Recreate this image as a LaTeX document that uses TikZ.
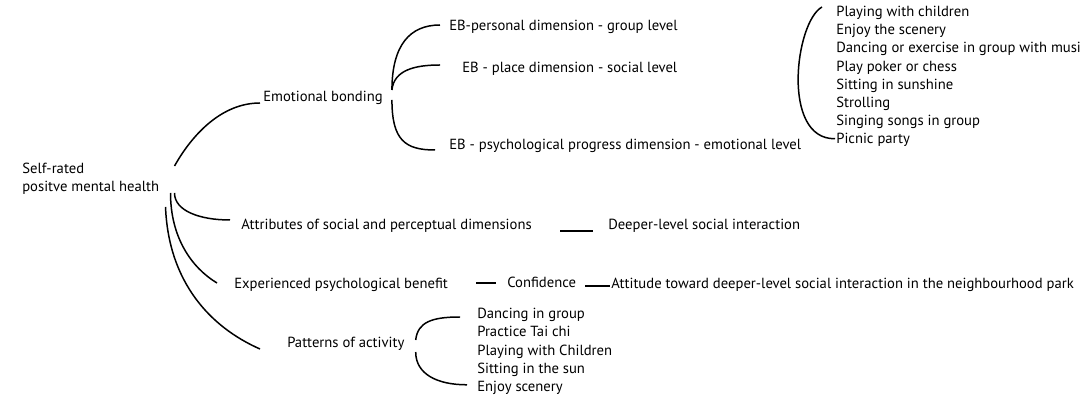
\documentclass[tikz,border=0pt]{standalone}
\usepackage{fontspec}
\setmainfont{PT Sans}
\usepackage{tikz}

\tikzset{
  lbl/.style={anchor=west, inner sep=0pt, text height=7pt, text depth=2pt,
    font=\fontsize{9.8}{12.04}\selectfont},
  link/.style={line width=1pt}
}

\begin{document}
\begin{tikzpicture}[x=0.0235cm, y=-0.0235cm]
    \useasboundingbox (0,0) rectangle (1080,401);
    % main branches
    \node[lbl, align=left] (root) at (22,188) {Self-rated\\positve mental health};
    \node[lbl] (eb) at (263,98) {Emotional bonding};
    \node[lbl] (attr) at (241,226) {Attributes of social and perceptual dimensions};
    \node[lbl] (exp) at (234,285) {Experienced psychological benefit};
    \node[lbl] (pat) at (287,344) {Patterns of activity};
    \draw[link] ([shift={(15,-22)}]root.east) .. controls +(18,-32) and +(-38,0) .. ([shift={(-3,5)}]eb.west);
    \draw[link] ([shift={(15,5)}]root.east) .. controls +(0,18) and +(-30,0) .. ([shift={(-11,-6)}]attr.west);
    \draw[link] ([shift={(11,5)}]root.east) .. controls +(0,45) and +(-25,-15) .. ([shift={(-17,-2)}]exp.west);
    \draw[link] ([shift={(6,19)}]root.east) .. controls +(3,75) and +(-50,-22) .. ([shift={(-27,5)}]pat.west);
    % emotional bonding
    \node[lbl] (eb1) at (449,27) {EB-personal dimension - group level};
    \node[lbl] (eb2) at (462,69) {EB - place dimension - social level};
    \node[lbl] (eb3) at (449,146) {EB - psychological progress dimension - emotional level};
    \draw[link] ([shift={(9,-8)}]eb.east) .. controls +(0,-45) and +(-30,0) .. ([shift={(-9,-2)}]eb1.west);
    \draw[link] ([shift={(9,-8)}]eb.east) .. controls +(2,-20) and +(-25,0) .. ([shift={(-22,-4)}]eb2.west);
    \draw[link] ([shift={(9,2)}]eb.east) .. controls +(0,40) and +(-30,0) .. ([shift={(-14,4)}]eb3.west);
    \foreach \t [count=\i] in {Playing with children, Enjoy the scenery,
        Dancing or exercise in group with music, Play poker or chess,
        Sitting in sunshine, Strolling, Singing songs in group, Picnic party} {
      \node[lbl] (act\i) at (836,{13+18.1*(\i-1)}) {\t};
    }
    \draw[link] ([shift={(-14,-6)}]act1.west) .. controls +(-27,15) and +(-54,1) .. ([shift={(-1,-1)}]act8.west);
    % social interaction
    \node[lbl] (deep) at (608,226) {Deeper-level social interaction};
    \draw[link] ([shift={(28,5)}]attr.east) -- ([shift={(-15,5)}]deep.west);
    \node[lbl] (conf) at (507,284) {Confidence};
    \node[lbl] (att) at (611,285) {Attitude toward deeper-level social interaction in the neighbourhood park};
    \draw[link] ([shift={(28,-2)}]exp.east) -- ([shift={(-11,-1)}]conf.west);
    \draw[link] ([shift={(9,2)}]conf.east) -- ([shift={(-1,1)}]att.west);
    % patterns of activity
    \foreach \t [count=\i] in {Dancing in group, Practice Tai chi,
        Playing with Children, Sitting in the sun, Enjoy scenery} {
      \node[lbl] (pa\i) at (477,{315+18.2*(\i-1)}) {\t};
    }
    \draw[link] ([shift={(11,-4)}]pat.east) .. controls +(2,-18) and +(-28,0) .. ([shift={(-17,2)}]pa1.west);
    \draw[link] ([shift={(11,8)}]pat.east) .. controls +(0,22) and +(-30,0) .. ([shift={(-10,-3)}]pa5.west);
  \end{tikzpicture}
\end{document}
